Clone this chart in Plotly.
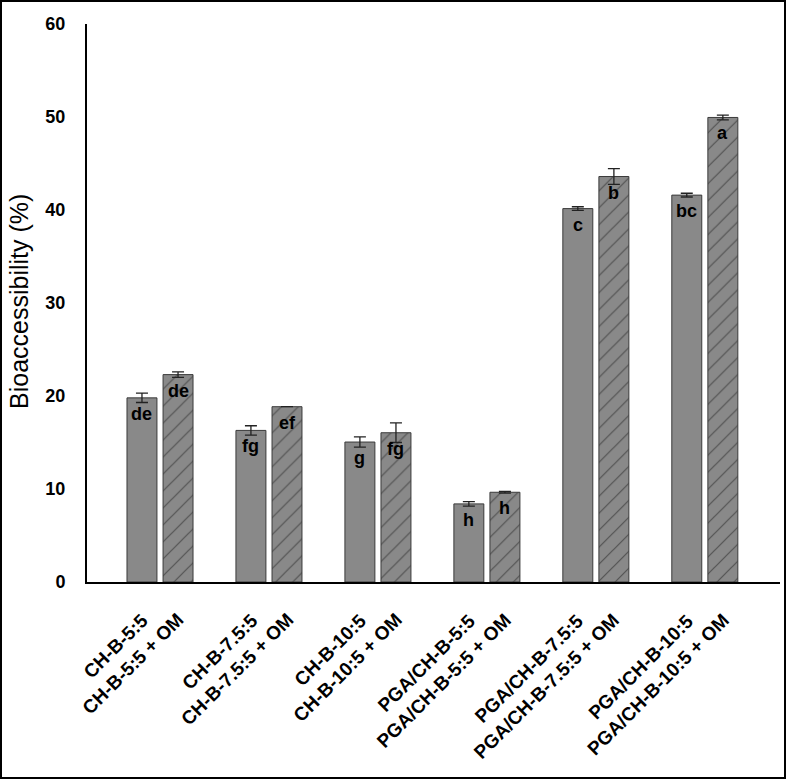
import plotly.graph_objects as go

categories = ["CH-B-5:5", "CH-B-7.5:5", "CH-B-10:5",
              "PGA/CH-B-5:5", "PGA/CH-B-7.5:5", "PGA/CH-B-10:5"]
om_suffix = " + OM"
solid_vals = [19.8, 16.3, 15.05, 8.4, 40.15, 41.6]
solid_err = [0.5, 0.5, 0.55, 0.25, 0.2, 0.2]
solid_letters = ["de", "fg", "g", "h", "c", "bc"]
om_vals = [22.3, 18.85, 16.05, 9.65, 43.6, 49.95]
om_err = [0.3, 0.0, 1.05, 0.1, 0.85, 0.25]
om_letters = ["de", "ef", "fg", "h", "b", "a"]
y_ticks = [0, 10, 20, 30, 40, 50, 60]

W, H = 789, 780
ML, MR, MT, MB = 87, 9, 24, 198
PW, PH = W - ML - MR, H - MT - MB

FONT = "Liberation Sans, Arial, sans-serif"
BAR = "#898989"
EDGE = "#3a3a3a"
BW = 0.275
OFF_S, OFF_O = -0.303, 0.028

xpos = list(range(len(categories)))

fig = go.Figure()
fig.add_trace(go.Bar(
    x=xpos, y=solid_vals, width=BW, offset=OFF_S,
    marker=dict(color=BAR, line=dict(color=EDGE, width=1)),
    error_y=dict(type="data", array=solid_err, visible=True,
                 color="#222222", thickness=1.3, width=6),
    showlegend=False,
))
fig.add_trace(go.Bar(
    x=xpos, y=om_vals, width=BW, offset=OFF_O,
    marker=dict(color=BAR, line=dict(color=EDGE, width=1),
                pattern=dict(shape="/", fgcolor="#1a1a1a", bgcolor=BAR,
                             size=12, solidity=0.1)),
    error_y=dict(type="data", array=om_err, visible=True,
                 color="#222222", thickness=1.3, width=6),
    showlegend=False,
))

annotations = []
for vals, letters, off in ((solid_vals, solid_letters, OFF_S),
                           (om_vals, om_letters, OFF_O)):
    for i, (v, t) in enumerate(zip(vals, letters)):
        annotations.append(dict(
            x=i + off + BW / 2, y=v, xref="x", yref="y",
            xanchor="center", yanchor="top", yshift=-4, showarrow=False,
            text=t, font=dict(family=FONT, size=18, color="black", weight="bold"),
        ))
for i, c in enumerate(categories):
    annotations.append(dict(
        x=i, y=0, xref="x", yref="y", xanchor="right", yanchor="top",
        xshift=31, yshift=-7, textangle=-45, align="center", showarrow=False,
        text=f"{c}<br>{c}{om_suffix}",
        font=dict(family=FONT, size=19, color="black", weight="bold"),
    ))
annotations.append(dict(
    x=(19 - ML) / PW, y=(MT + PH - 302) / PH, xref="paper", yref="paper",
    xanchor="center", yanchor="middle", textangle=-90, showarrow=False,
    text="Bioaccessibility (%)",
    font=dict(family=FONT, size=25, color="black"),
))

fig.update_layout(
    width=W, height=H,
    margin=dict(l=ML, r=MR, t=MT, b=MB, pad=0),
    paper_bgcolor="white", plot_bgcolor="white",
    barmode="overlay",
    annotations=annotations,
    xaxis=dict(range=[-0.67, 5.69], showticklabels=False, ticks="",
               showgrid=False, zeroline=False, showline=True,
               linecolor="black", linewidth=2),
    yaxis=dict(range=[0, 60], tickvals=y_ticks, ticks="",
               ticklabelstandoff=16,
               tickfont=dict(family=FONT, size=18, color="black", weight="bold"),
               showgrid=False, zeroline=False, showline=True,
               linecolor="black", linewidth=2),
    shapes=[dict(type="rect", xref="paper", yref="paper",
                 x0=(1 - ML) / PW, x1=(785 - ML) / PW,
                 y0=(MT + PH - 778) / PH, y1=(MT + PH - 1) / PH,
                 line=dict(color="black", width=2), fillcolor="rgba(0,0,0,0)",
                 layer="below")],
)

fig.write_html("out.html")
